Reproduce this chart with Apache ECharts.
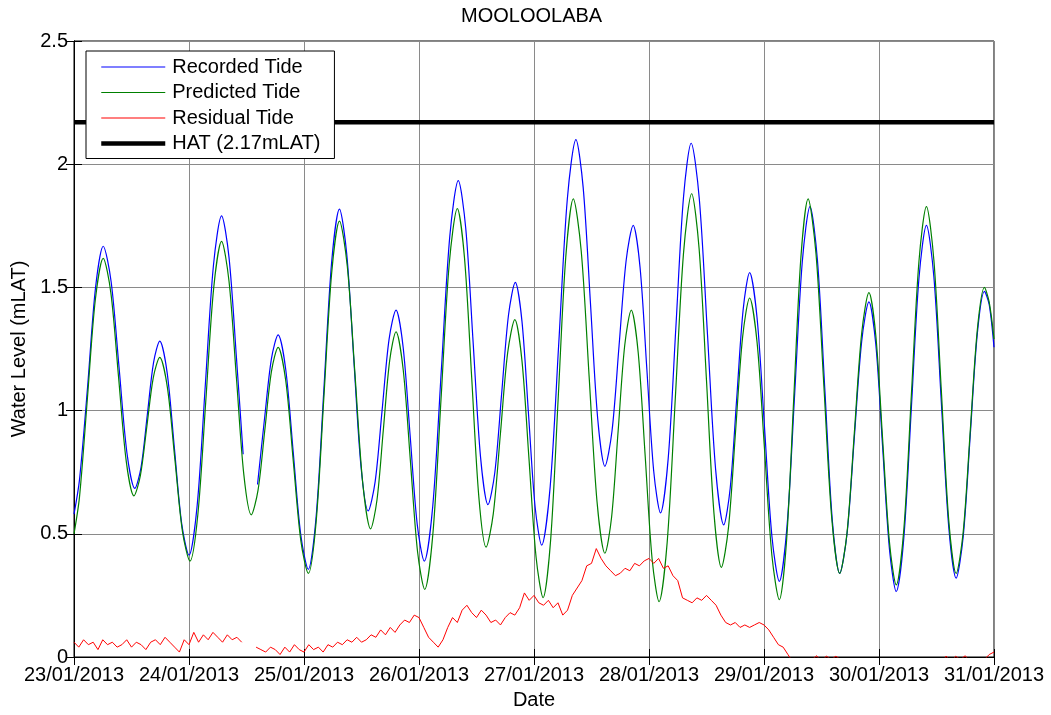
<!DOCTYPE html>
<html>
<head>
<meta charset="utf-8">
<script src="https://cdn.jsdelivr.net/npm/echarts@6/dist/echarts.min.js"></script>
<style>
html,body{margin:0;padding:0;background:#fff;}
#chart{width:1051px;height:715px;}
</style>
</head>
<body>
<div id="chart"></div>
<script>
// Date tick labels (one per day, hours 0..192)
const dateLabels = ['23/01/2013','24/01/2013','25/01/2013','26/01/2013','27/01/2013','28/01/2013','29/01/2013','30/01/2013','31/01/2013'];

// Recorded tide: hours since 23/01/2013 00:00 and level (mLAT)
const recordedHours = [0,1.15,2.85,4.5,6.1,7.75,9.4,11.05,12.7,14.0,15.3,16.6,17.9,19.43,20.95,22.48,24.0,25.7,27.4,29.1,30.8,32.35,33.9,35.3,36.8,38.3,39.8,41.2,42.6,44.18,45.75,47.33,48.9,50.53,52.15,53.78,55.4,56.9,58.4,59.9,61.4,62.85,64.3,65.75,67.2,68.68,70.15,71.63,73.1,74.88,76.65,78.43,80.2,81.75,83.3,84.85,86.4,87.83,89.25,90.68,92.1,93.48,94.85,96.23,97.6,99.39,101.18,102.96,104.75,106.26,107.78,109.29,110.8,112.28,113.75,115.23,116.7,118.13,119.55,120.98,122.4,124.0,125.6,127.2,128.8,130.5,132.2,133.9,135.6,136.95,138.3,139.65,141.0,142.55,144.1,145.65,147.2,148.8,150.4,152.0,153.6,155.15,156.7,158.25,159.8,161.33,162.85,164.38,165.9,167.33,168.75,170.18,171.6,173.18,174.75,176.33,177.9,179.45,181.0,182.55,184.1,185.58,187.05,188.53,190.0,191.0,192.0];
const recordedLevels = [0.58,0.72,1.10,1.50,1.667,1.523,1.176,0.828,0.684,0.771,0.983,1.195,1.282,1.155,0.848,0.540,0.413,0.614,1.102,1.589,1.79,1.622,1.215,0.823,null,0.70,0.974,1.21,1.307,1.168,0.832,0.495,0.356,0.569,1.087,1.605,1.818,1.639,1.206,0.772,0.593,0.712,1.001,1.289,1.408,1.259,0.899,0.538,0.389,0.614,1.161,1.708,1.933,1.741,1.276,0.810,0.618,0.750,1.069,1.388,1.52,1.364,0.987,0.610,0.454,0.694,1.277,1.860,2.10,1.906,1.437,0.968,0.774,0.917,1.263,1.609,1.752,1.582,1.169,0.755,0.585,0.804,1.335,1.866,2.085,1.859,1.311,0.762,0.536,0.686,1.048,1.410,1.56,1.377,0.934,0.490,0.307,0.529,1.068,1.606,1.828,1.611,1.084,0.556,0.339,0.500,0.890,1.280,1.441,1.269,0.854,0.438,0.266,0.483,1.009,1.535,1.752,1.543,1.036,0.529,0.32,0.490,0.902,1.314,1.484,1.43,1.257];

// Predicted tide
const predictedHours = [0,1.15,2.8,4.45,6.1,7.7,9.3,10.9,12.5,13.85,15.2,16.55,17.9,19.48,21.05,22.63,24.2,25.85,27.5,29.15,30.8,32.35,33.9,35.45,37.0,38.4,39.8,41.2,42.6,44.18,45.75,47.33,48.9,50.53,52.15,53.78,55.4,57.03,58.65,60.28,61.9,63.23,64.55,65.88,67.2,68.7,70.2,71.7,73.2,74.9,76.6,78.3,80.0,81.5,83.0,84.5,86.0,87.5,89.0,90.5,92.0,93.48,94.95,96.43,97.9,99.48,101.05,102.63,104.2,105.85,107.5,109.15,110.8,112.18,113.55,114.93,116.3,117.75,119.2,120.65,122.1,123.8,125.5,127.2,128.9,130.45,132.0,133.55,135.1,136.58,138.05,139.53,141.0,142.55,144.1,145.65,147.2,148.7,150.2,151.7,153.2,154.85,156.5,158.15,159.8,161.33,162.85,164.38,165.9,167.33,168.75,170.18,171.6,173.18,174.75,176.33,177.9,179.45,181.0,182.55,184.1,185.58,187.05,188.53,190.0,191.0,192.0];
const predictedLevels = [0.50,0.65,1.05,1.45,1.618,1.477,1.136,0.795,0.654,0.736,0.935,1.134,1.216,1.095,0.803,0.510,0.389,0.579,1.038,1.497,1.687,1.525,1.132,0.739,0.577,0.676,0.917,1.158,1.257,1.123,0.798,0.473,0.339,0.548,1.054,1.560,1.769,1.587,1.145,0.702,0.52,0.637,0.92,1.203,1.32,1.167,0.797,0.427,0.274,0.500,1.047,1.594,1.82,1.619,1.133,0.647,0.446,0.581,0.908,1.234,1.369,1.204,0.805,0.406,0.241,0.477,1.05,1.623,1.859,1.649,1.14,0.631,0.421,0.565,0.915,1.264,1.408,1.235,0.817,0.398,0.225,0.467,1.053,1.638,1.88,1.659,1.122,0.585,0.364,0.524,0.911,1.297,1.457,1.278,0.845,0.412,0.233,0.470,1.046,1.622,1.859,1.637,1.099,0.561,0.339,0.505,0.909,1.313,1.479,1.306,0.886,0.466,0.293,0.517,1.061,1.604,1.828,1.611,1.084,0.556,0.339,0.509,0.920,1.330,1.50,1.44,1.29];

// Residual tide, hourly from hour 0 to 192
const residualLevels = [0.06,0.04,0.07,0.05,0.06,0.03,0.07,0.05,0.06,0.04,0.05,0.07,0.04,0.06,0.05,0.03,0.06,0.07,0.05,0.08,0.06,0.04,0.02,0.07,
0.05,0.10,0.06,0.09,0.07,0.10,0.08,0.06,0.09,0.07,0.08,0.06,null,null,0.04,0.03,0.02,0.04,0.03,0.01,0.04,0.02,0.05,0.03,
0.02,0.05,0.03,0.04,0.02,0.05,0.04,0.06,0.05,0.07,0.06,0.08,0.06,0.07,0.09,0.08,0.11,0.09,0.12,0.10,0.13,0.15,0.14,0.17,
0.16,0.12,0.08,0.06,0.04,0.07,0.12,0.16,0.14,0.19,0.21,0.18,0.16,0.19,0.17,0.14,0.15,0.13,0.16,0.18,0.17,0.20,0.26,0.23,
0.25,0.22,0.21,0.23,0.20,0.22,0.17,0.19,0.25,0.28,0.31,0.37,0.38,0.44,0.40,0.37,0.35,0.33,0.34,0.36,0.35,0.38,0.37,0.39,
0.40,0.38,0.40,0.36,0.37,0.33,0.31,0.24,0.23,0.22,0.24,0.23,0.25,0.23,0.21,0.17,0.14,0.13,0.14,0.12,0.13,0.12,0.13,0.14,
0.13,0.11,0.08,0.05,0.04,0.01,-0.02,-0.03,-0.05,-0.04,-0.01,0.005,-0.02,0.004,-0.01,0.003,-0.01,-0.04,-0.03,-0.05,-0.04,-0.03,-0.04,-0.06,
-0.05,-0.04,-0.03,-0.05,-0.04,-0.06,-0.05,-0.07,-0.06,-0.05,-0.04,-0.06,-0.05,-0.03,0.004,-0.02,0.003,-0.01,0.005,-0.02,-0.01,-0.02,-0.01,0.01,
0.02];

const hatLevel = 2.17;
const hatHours = [0, 192];

const zip = (xs, ys) => xs.map((x, i) => [x, ys[i]]);
const recordedData = zip(recordedHours, recordedLevels);
const predictedData = zip(predictedHours, predictedLevels);
const residualData = residualLevels.map((v, i) => [i, v]);
const hatData = hatHours.map(h => [h, hatLevel]);

const FONT = '"Liberation Sans", Arial, Helvetica, sans-serif';
const chart = echarts.init(document.getElementById('chart'), null, {renderer: 'canvas'});

const xBase = {
  type: 'value', min: 0, max: 192, interval: 24,
  axisLine: {show: true, lineStyle: {color: '#000', width: 1}},
  axisTick: {show: true, inside: true, length: 8, lineStyle: {color: '#000'}},
};
const yBase = {
  type: 'value', min: 0, max: 2.5, interval: 0.5,
  axisLine: {show: true, lineStyle: {color: '#000', width: 1}},
  axisTick: {show: true, inside: true, length: 8, lineStyle: {color: '#000'}},
};

chart.setOption({
  animation: false,
  backgroundColor: '#fff',
  title: {
    text: 'MOOLOOLABA', left: 461, top: 6, padding: 0,
    textStyle: {fontFamily: FONT, fontSize: 20, fontWeight: 'normal', color: '#000'}
  },
  grid: {left: 74, right: 57, top: 41, bottom: 54, show: true, borderColor: '#000', borderWidth: 1, backgroundColor: '#fff'},
  legend: {
    orient: 'vertical', left: 86, top: 51,
    padding: [6, 14, 5, 13],
    backgroundColor: '#fff', borderColor: '#000', borderWidth: 1, borderRadius: 0,
    itemWidth: 64, itemHeight: 14, itemGap: 5.5,
    itemStyle: {color: 'rgba(0,0,0,0)', borderWidth: 0, opacity: 0},
    textStyle: {fontFamily: FONT, fontSize: 20, color: '#000', lineHeight: 20, padding: [0, 0, 0, 2]},
    data: [
      {name: 'Recorded Tide', lineStyle: {width: 1.2}},
      {name: 'Predicted Tide', lineStyle: {width: 1.2}},
      {name: 'Residual Tide', lineStyle: {width: 1.2}},
      {name: 'HAT (2.17mLAT)', lineStyle: {width: 4.5}}
    ]
  },
  xAxis: [
    Object.assign({}, xBase, {
      position: 'bottom', name: 'Date', nameLocation: 'middle', nameGap: 33,
      nameTextStyle: {fontFamily: FONT, fontSize: 20, color: '#000'},
      axisLabel: {fontFamily: FONT, fontSize: 20, color: '#000', margin: 8,
        formatter: v => dateLabels[Math.round(v / 24)] || ''},
      splitLine: {show: true, lineStyle: {color: '#8a8a8a', width: 1}}
    }),
    Object.assign({}, xBase, {position: 'top', axisLabel: {show: false}, splitLine: {show: false}})
  ],
  yAxis: [
    Object.assign({}, yBase, {
      position: 'left', name: 'Water Level (mLAT)', nameLocation: 'middle', nameGap: 42,
      nameTextStyle: {fontFamily: FONT, fontSize: 20, color: '#000'},
      axisLabel: {fontFamily: FONT, fontSize: 20, color: '#000', margin: 6},
      splitLine: {show: true, lineStyle: {color: '#8a8a8a', width: 1}}
    }),
    Object.assign({}, yBase, {position: 'right', axisLabel: {show: false}, splitLine: {show: false}})
  ],
  series: [
    {name: 'Recorded Tide', type: 'line', data: recordedData, symbol: 'none', smooth: 0.3,
      connectNulls: false, lineStyle: {color: '#0000ff', width: 1.2}, itemStyle: {color: '#0000ff'}},
    {name: 'Predicted Tide', type: 'line', data: predictedData, symbol: 'none', smooth: 0.3,
      lineStyle: {color: '#008000', width: 1.2}, itemStyle: {color: '#008000'}},
    {name: 'Residual Tide', type: 'line', data: residualData, symbol: 'none', connectNulls: false,
      lineStyle: {color: '#ff0000', width: 1}, itemStyle: {color: '#ff0000'}},
    {name: 'HAT (2.17mLAT)', type: 'line', data: hatData, symbol: 'none',
      lineStyle: {color: '#000', width: 4.5}, itemStyle: {color: '#000'}}
  ]
});
</script>
</body>
</html>
